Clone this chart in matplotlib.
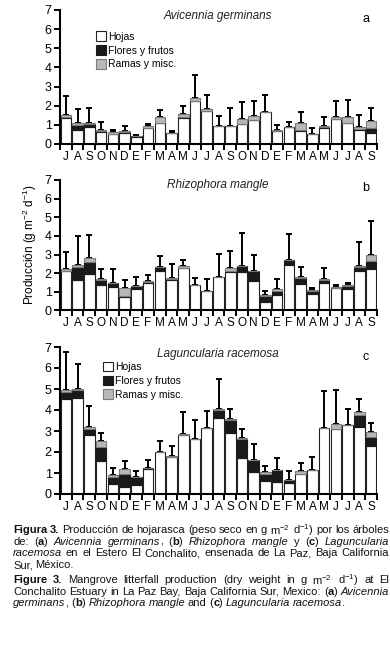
import numpy as np
import matplotlib
matplotlib.use('Agg')
import matplotlib.pyplot as plt

plt.rcParams['font.family'] = ['Liberation Sans', 'DejaVu Sans']
plt.rcParams['mathtext.fontset'] = 'custom'
plt.rcParams['mathtext.rm'] = 'Liberation Sans'
plt.rcParams['mathtext.it'] = 'Liberation Sans:italic'
plt.rcParams['mathtext.bf'] = 'Liberation Sans:bold'

# Months, Jul (year 1) to Sep (year 3)
months = ['J', 'A', 'S', 'O', 'N', 'D', 'E', 'F', 'M', 'A', 'M', 'J',
          'J', 'A', 'S', 'O', 'N', 'D', 'E', 'F', 'M', 'A', 'M', 'J', 'J', 'A', 'S']

# (a) Avicennia germinans
avi_hojas = [1.35, 0.75, 0.90, 0.65, 0.50, 0.60, 0.38, 0.85, 1.10, 0.55, 1.35, 2.25, 1.70, 0.95,
             0.96, 1.02, 1.26, 1.68, 0.67, 0.90, 0.70, 0.50, 0.86, 1.28, 1.12, 0.75, 0.58]
avi_flores = [0.05, 0.25, 0.12, 0.03, 0.02, 0.02, 0.02, 0.00, 0.00, 0.03, 0.05, 0.02, 0.03, 0.00,
              0.00, 0.00, 0.00, 0.00, 0.00, 0.00, 0.05, 0.04, 0.03, 0.04, 0.00, 0.05, 0.28]
avi_ramas = [0.10, 0.10, 0.08, 0.07, 0.13, 0.08, 0.00, 0.07, 0.32, 0.02, 0.15, 0.15, 0.12, 0.01,
             0.00, 0.31, 0.21, 0.00, 0.08, 0.00, 0.37, 0.00, 0.06, 0.10, 0.27, 0.10, 0.32]
avi_err = [2.50, 1.85, 1.90, 1.15, 0.72, 0.93, 0.47, 1.05, 1.80, 0.68, 2.00, 3.60, 2.54, 1.45,
           1.90, 2.20, 2.26, 2.56, 1.00, 1.16, 1.68, 0.84, 1.40, 2.26, 2.30, 1.53, 1.88]

# (b) Rhizophora mangle
rhi_hojas = [2.10, 1.65, 1.95, 1.35, 1.25, 0.75, 1.15, 1.45, 2.10, 1.65, 2.30, 1.35, 1.04, 1.82,
             2.05, 2.07, 1.57, 0.46, 0.84, 2.45, 1.43, 0.91, 1.48, 1.22, 1.16, 2.14, 2.25]
rhi_flores = [0.03, 0.70, 0.65, 0.30, 0.22, 0.05, 0.15, 0.10, 0.25, 0.02, 0.00, 0.00, 0.00, 0.00,
              0.05, 0.34, 0.55, 0.33, 0.23, 0.27, 0.30, 0.12, 0.18, 0.00, 0.14, 0.20, 0.39]
rhi_ramas = [0.10, 0.10, 0.20, 0.02, 0.00, 0.40, 0.03, 0.05, 0.00, 0.05, 0.08, 0.00, 0.00, 0.00,
             0.20, 0.00, 0.02, 0.03, 0.07, 0.00, 0.07, 0.05, 0.02, 0.03, 0.05, 0.05, 0.36]
rhi_err = [3.15, 4.00, 4.05, 2.20, 2.25, 1.65, 1.78, 1.93, 2.90, 2.47, 2.70, 1.75, 1.71, 3.05,
           3.18, 4.16, 2.98, 1.07, 1.71, 4.12, 2.36, 1.23, 2.29, 1.39, 1.50, 3.66, 4.82]

# (c) Laguncularia racemosa
lag_hojas = [4.52, 4.57, 2.81, 1.59, 0.48, 0.35, 0.43, 1.17, 2.02, 1.77, 2.82, 2.60, 3.15, 3.64,
             2.92, 1.70, 1.05, 0.60, 0.56, 0.52, 0.97, 1.16, 3.16, 3.08, 3.27, 3.21, 2.30]
lag_flores = [0.35, 0.36, 0.28, 0.63, 0.32, 0.61, 0.37, 0.07, 0.00, 0.00, 0.00, 0.00, 0.00, 0.36,
              0.62, 0.94, 0.58, 0.37, 0.58, 0.16, 0.00, 0.00, 0.00, 0.00, 0.00, 0.54, 0.40]
lag_ramas = [0.10, 0.07, 0.08, 0.30, 0.11, 0.21, 0.03, 0.00, 0.00, 0.04, 0.02, 0.00, 0.00, 0.05,
             0.05, 0.03, 0.00, 0.06, 0.00, 0.00, 0.11, 0.00, 0.00, 0.25, 0.00, 0.16, 0.25]
lag_err = [6.75, 6.19, 4.19, 2.92, 1.22, 1.59, 1.08, 1.62, 2.51, 2.29, 3.92, 3.52, 3.96, 5.48,
           4.06, 3.10, 2.37, 1.32, 1.70, 1.08, 1.49, 1.76, 4.89, 4.94, 4.03, 4.51, 3.37]

species = ['Avicennia germinans', 'Rhizophora mangle', 'Laguncularia racemosa']
letters = ['a', 'b', 'c']
series_labels = ['Hojas', 'Flores y frutos', 'Ramas y misc.']

W, H = 390, 649
fig = plt.figure(figsize=(W / 100, H / 100), dpi=100)

def px_axes(x0, x1, ytop, ybot):
    return fig.add_axes([x0 / W, 1 - ybot / H, (x1 - x0) / W, (ybot - ytop) / H])

axes = [px_axes(60, 377, 10, 144), px_axes(60, 377, 180, 310.5), px_axes(60, 377, 347, 494)]
data = [(avi_hojas, avi_flores, avi_ramas, avi_err),
        (rhi_hojas, rhi_flores, rhi_ramas, rhi_err),
        (lag_hojas, lag_flores, lag_ramas, lag_err)]
# title / letter vertical spots (axes fraction)
title_y = [0.955, 0.96, 0.95]
letter_y = [0.98, 0.985, 0.975]

x = np.arange(len(months))
for i, (ax, (hojas, flores, ramas, err)) in enumerate(zip(axes, data)):
    hojas = np.array(hojas)
    flores = np.array(flores)
    ramas = np.array(ramas)
    total = hojas + flores + ramas
    err = np.array(err)

    ax.errorbar(x, total, yerr=[np.zeros_like(total), err - total], fmt='none',
                ecolor='black', elinewidth=1.4, capsize=2.5, capthick=1.4, zorder=1)
    b1 = ax.bar(x, hojas, width=0.9, color='white', edgecolor='#222222', linewidth=0.8, zorder=2)
    b2 = ax.bar(x, flores, bottom=hojas, width=0.9, color='#1a1a1a', edgecolor='#1a1a1a',
                linewidth=0.8, zorder=2)
    b3 = ax.bar(x, ramas, bottom=hojas + flores, width=0.9, color='#b8b8b8', edgecolor='#7a7a7a',
                linewidth=0.8, zorder=2)

    ax.set_xlim(-0.5, len(months) - 0.5)
    ax.set_ylim(0, 7)
    ax.set_yticks(range(8))
    ax.set_xticks(x)
    ax.set_xticklabels(months)
    ax.set_xticks(np.arange(-0.5, len(months)), minor=True)
    ax.tick_params(axis='x', which='major', length=0, pad=5, labelsize=8.5)
    ax.tick_params(axis='x', which='minor', length=4, width=1.4, direction='out')
    ax.tick_params(axis='y', length=4, width=1.4, pad=2, labelsize=9)
    for s in ['top', 'right']:
        ax.spines[s].set_visible(False)
    for s in ['left', 'bottom']:
        ax.spines[s].set_linewidth(1.5)

    ax.text(0.498, title_y[i], species[i], transform=ax.transAxes, fontsize=8.5,
            style='italic', color='#222222', ha='center', va='center')
    ax.text(0.965, letter_y[i], letters[i], transform=ax.transAxes, fontsize=9,
            ha='center', va='top')

    if i == 0:
        ax.legend([b1, b2, b3], series_labels, loc='upper left', bbox_to_anchor=(0.115, 0.84),
                  frameon=False, fontsize=7.5, handlelength=0.9, handleheight=1.0,
                  labelspacing=0.35, handletextpad=0.25, borderpad=0, borderaxespad=0)
    if i == 2:
        ax.legend([b1, b2, b3], series_labels, loc='upper left', bbox_to_anchor=(0.137, 0.90),
                  frameon=False, fontsize=7.5, handlelength=0.9, handleheight=1.0,
                  labelspacing=0.35, handletextpad=0.25, borderpad=0, borderaxespad=0)

fig.text(30 / W, 1 - 245 / H, 'Producción (g m$^{-2}$ d$^{-1}$)', rotation=90,
         ha='center', va='center', fontsize=8.5)

# caption, * toggles bold, _ toggles italic
caption = [
    ('*Figura 3.* Producción de hojarasca (peso seco en g m$^{-2}$ d$^{-1}$) por los árboles', True),
    ('de: (*a*) _Avicennia germinans_, (*b*) _Rhizophora mangle_ y (*c*) _Laguncularia_', True),
    ('_racemosa_ en el Estero El Conchalito, ensenada de La Paz, Baja California', True),
    ('Sur, México.', False),
    ('*Figure 3.* Mangrove litterfall production (dry weight in g m$^{-2}$ d$^{-1}$) at El', True),
    ('Conchalito Estuary in La Paz Bay, Baja California Sur, Mexico: (*a*) _Avicennia_', True),
    ('_germinans_, (*b*) _Rhizophora mangle_ and (*c*) _Laguncularia racemosa_.', False),
]
line_y = [530, 542, 553.5, 565, 580, 592, 603.5]

renderer = fig.canvas.get_renderer()

def parse_words(s):
    bold = False
    ital = False
    words = [[]]
    cur = ''
    for ch in s:
        if ch in '*_' or ch == ' ':
            if cur:
                words[-1].append((cur, bold, ital))
                cur = ''
            if ch == '*':
                bold = not bold
            elif ch == '_':
                ital = not ital
            else:
                words.append([])
        else:
            cur += ch
    if cur:
        words[-1].append((cur, bold, ital))
    return [w for w in words if w]

left, right = 13, 389
fs = 8.0
for (line, justify), yy in zip(caption, line_y):
    words = parse_words(line)
    objs = []
    widths = []
    for w in words:
        pieces = []
        wsum = 0
        for txt, bold, ital in w:
            t = fig.text(0, 1 - yy / H, txt, fontsize=fs, va='center', ha='left',
                         weight='bold' if bold else 'normal',
                         style='italic' if ital else 'normal', color='#111111')
            pw = t.get_window_extent(renderer).width
            pieces.append((t, wsum))
            wsum += pw
        objs.append(pieces)
        widths.append(wsum)
    natural_gap = 2.8
    if justify and len(words) > 1:
        gap = (right - left - sum(widths)) / (len(words) - 1)
    else:
        gap = natural_gap
    xpos = left
    for pieces, wd in zip(objs, widths):
        for t, off in pieces:
            t.set_x((xpos + off) / W)
        xpos += wd + gap

fig.savefig('out.png', dpi=100)
